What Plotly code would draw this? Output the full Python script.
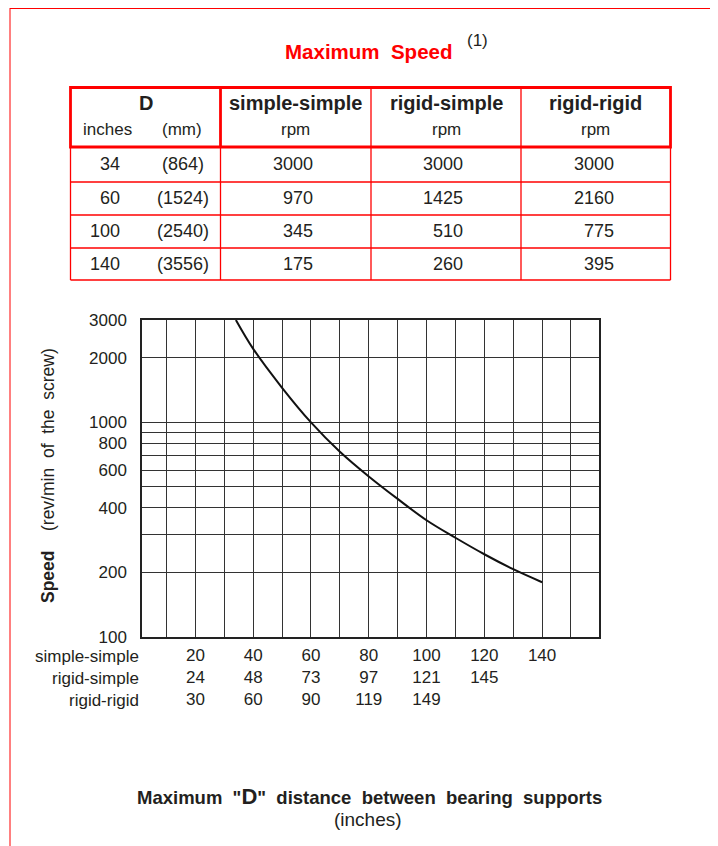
import plotly.graph_objects as go

# ---------------- data ----------------
D_inches = [34, 60, 100, 140]
D_mm = [864, 1524, 2540, 3556]
rpm_simple_simple = [3000, 970, 345, 175]
rpm_rigid_simple = [3000, 1425, 510, 260]
rpm_rigid_rigid = [3000, 2160, 775, 395]
table_columns = ["simple-simple", "rigid-simple", "rigid-rigid"]

curve_D = [34, 40, 50, 60, 70, 80, 90, 100, 110, 120, 130, 140]
curve_rpm = [3000, 2200, 1450, 1000, 730, 560, 440, 350, 290, 243, 207, 180]

x_grid = [10, 20, 30, 40, 50, 60, 70, 80, 90, 100, 110, 120, 130, 140, 150]
x_label_positions = [20, 40, 60, 80, 100, 120, 140]
x_labels_simple_simple = ["20", "40", "60", "80", "100", "120", "140"]
x_labels_rigid_simple = ["24", "48", "73", "97", "121", "145"]
x_labels_rigid_rigid = ["30", "60", "90", "119", "149"]
x_row_names = ["simple-simple", "rigid-simple", "rigid-rigid"]

y_grid = [100, 200, 300, 400, 500, 600, 700, 800, 900, 1000, 2000, 3000]
y_label_values = [100, 200, 400, 600, 800, 1000, 2000, 3000]
y_labels = ["100", "200", "400", "600", "800", "1000", "2000", "3000"]

# ---------------- layout geometry (window pixels) ----------------
OFF = 8                      # default page margin of the html body
WIN_W, WIN_H = 718, 846
W, H = WIN_W - OFF, WIN_H - OFF
L, R, T, B = 142, 599, 320, 637   # plot area in window pixels
FONT = "Liberation Sans, Arial, Helvetica, sans-serif"
RED = "#ff0000"
TXT = "#231f20"


def px(xp):
    return (xp - L) / (R - L)


def py(yp):
    return (B - yp) / (B - T)


# tick texts built from the label lists
rows = [x_labels_simple_simple, x_labels_rigid_simple, x_labels_rigid_rigid]
x_ticktext = []
for g in x_grid:
    parts = []
    if g in x_label_positions:
        k = x_label_positions.index(g)
        for r in rows:
            if k < len(r):
                parts.append(r[k])
    x_ticktext.append("<br>".join(parts))
y_ticktext = [y_labels[y_label_values.index(v)] if v in y_label_values else "" for v in y_grid]

fig = go.Figure()
fig.add_trace(go.Scatter(
    x=curve_D, y=curve_rpm, mode="lines",
    line=dict(color="#111111", width=2, shape="spline", smoothing=1.0),
    hoverinfo="skip", showlegend=False,
))

fig.update_layout(
    width=W, height=H,
    margin=dict(l=L - OFF, r=WIN_W - R, t=T - OFF, b=WIN_H - B, pad=0),
    paper_bgcolor="white", plot_bgcolor="white",
    font=dict(family=FONT, size=17, color=TXT),
    showlegend=False,
)
fig.update_xaxes(
    range=[1.5, 159.7], tickmode="array", tickvals=x_grid, ticktext=x_ticktext,
    showgrid=True, gridcolor="#333333", gridwidth=1,
    showline=True, mirror=True, linecolor="#222222", linewidth=1.5,
    ticks="", zeroline=False, tickfont=dict(size=17, color=TXT),
    ticklabelstandoff=2, fixedrange=True,
)
fig.update_yaxes(
    type="log", range=[2, 3.4771], tickmode="array", tickvals=y_grid, ticktext=y_ticktext,
    showgrid=True, gridcolor="#333333", gridwidth=1,
    showline=True, mirror=True, linecolor="#222222", linewidth=1.5,
    ticks="", zeroline=False, tickfont=dict(size=17, color=TXT),
    ticklabelstandoff=10, fixedrange=True,
)

shapes = []
ann = []


def hline(y, x0, x1, w, color=RED):
    shapes.append(dict(type="line", xref="paper", yref="paper", x0=px(x0), x1=px(x1),
                       y0=py(y), y1=py(y), line=dict(color=color, width=w)))


def vline(x, y0, y1, w, color=RED):
    shapes.append(dict(type="line", xref="paper", yref="paper", x0=px(x), x1=px(x),
                       y0=py(y0), y1=py(y1), line=dict(color=color, width=w)))


def text(x, y, s, size=17, xanchor="center", color=TXT, angle=0):
    ann.append(dict(xref="paper", yref="paper", x=px(x), y=py(y), text=s, showarrow=False,
                    xanchor=xanchor, yanchor="middle", textangle=angle,
                    font=dict(family=FONT, size=size, color=color)))


# page border (top line drawn at the first visible row of the figure)
vline(10, OFF, WIN_H, 1)
hline(OFF + 0.5, 10, WIN_W, 1)

# table
col_x = [70.5, 220.5, 371, 521, 670.5]
row_y = [87.5, 147, 182, 215, 248, 280]
for y in row_y[1:]:
    hline(y, col_x[0], col_x[-1], 1.3)
for x in col_x:
    vline(x, row_y[1], row_y[-1], 1.3)
vline(col_x[2], row_y[0], row_y[1], 1.3)
vline(col_x[3], row_y[0], row_y[1], 1.3)
shapes.append(dict(type="rect", xref="paper", yref="paper", x0=px(col_x[0]), x1=px(col_x[-1]),
                   y0=py(row_y[0]), y1=py(row_y[1]), line=dict(color=RED, width=2.8)))
vline(col_x[1], row_y[0], row_y[1], 2.8)

# header text
text(145.5, 103, "<b>D</b>", size=20)
text(107, 129, "inches", size=17)
text(182, 129, "(mm)", size=17)
for j, name in enumerate(table_columns):
    cx = (col_x[j + 1] + col_x[j + 2]) / 2
    text(cx, 103, "<b>%s</b>" % name, size=20)
    text(cx, 130, "rpm", size=17)

# body text
value_cols = [rpm_simple_simple, rpm_rigid_simple, rpm_rigid_rigid]
value_right = [315, 465, 616]
for i in range(len(D_inches)):
    yc = (row_y[i + 1] + row_y[i + 2]) / 2 - 0.5
    text(122, yc, str(D_inches[i]), size=18, xanchor="right")
    text(183, yc, "(%d)" % D_mm[i], size=18)
    for j in range(3):
        text(value_right[j], yc, str(value_cols[j][i]), size=18, xanchor="right")

# titles
text(368, 51, "<b>Maximum&nbsp; Speed</b>", size=20.5, color=RED)
text(477, 40, "(1)", size=17)
text(48, 476, "<b>Speed</b>&nbsp;&nbsp;&nbsp; (rev/min&nbsp; of&nbsp; the&nbsp; screw)", size=17.5, angle=-90)
text(369, 796, '<b>Maximum&nbsp; "<span style="font-size:22px">D</span>"&nbsp; distance&nbsp; '
               'between&nbsp; bearing&nbsp; supports</b>', size=18.5)
text(368, 819, "(inches)", size=19)

# x-axis row names
row_y_px = [656, 678, 700]
for name, yy in zip(x_row_names, row_y_px):
    text(141, yy, name, size=17, xanchor="right")

fig.update_layout(shapes=shapes, annotations=ann)
fig.write_html("out.html", config={"displayModeBar": False})
